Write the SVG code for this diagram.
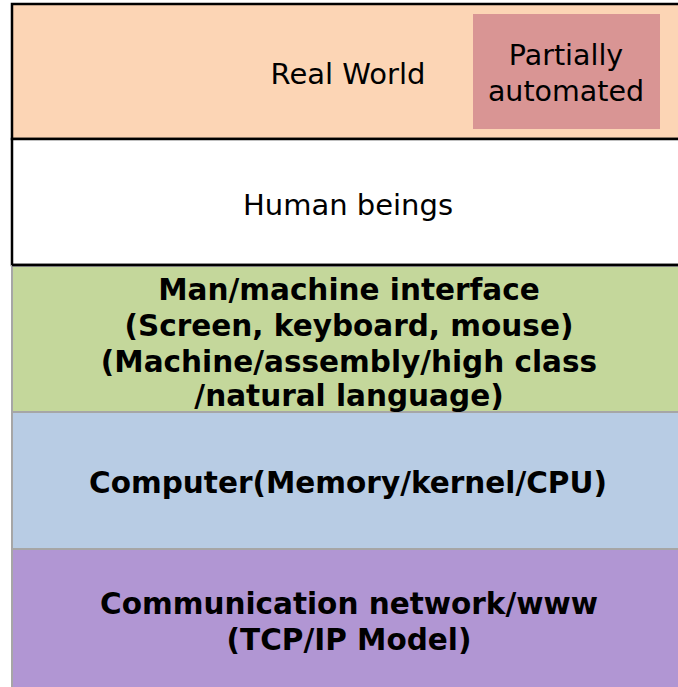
<svg xmlns="http://www.w3.org/2000/svg" width="678" height="687" viewBox="0 0 678 687">
<style>
.n{font-family:"DejaVu Sans","Verdana",sans-serif;font-size:29px;fill:#000;text-anchor:middle}
.b{font-family:"DejaVu Sans","Verdana",sans-serif;font-size:29.5px;font-weight:bold;fill:#000;text-anchor:middle}
.blk{stroke:#000;stroke-width:2.5}
.gry{stroke:#A6A6A6;stroke-width:2}
</style>
<rect x="0" y="0" width="678" height="687" fill="#FFFFFF"/>
<g id="real-world">
<rect x="12" y="4" width="680" height="135" fill="#FCD5B5" class="blk"/>
<text class="n" x="348" y="84">Real World</text>
</g>
<g id="partially-automated">
<rect x="473" y="14" width="187" height="115" fill="#D99594"/>
<text class="n" x="566" y="65" style="font-size:28.5px">Partially</text>
<text class="n" x="566" y="101" style="font-size:28.5px">automated</text>
</g>
<g id="human-beings">
<rect x="12" y="139" width="680" height="126" fill="#FFFFFF" class="blk"/>
<text class="n" x="348" y="215">Human beings</text>
</g>
<g id="computer">
<rect x="12" y="412" width="680" height="137" fill="#B8CCE4" class="gry"/>
<text class="b" x="348" y="493">Computer(Memory/kernel/CPU)</text>
</g>
<g id="interface">
<rect x="12" y="266" width="680" height="146" fill="#C4D79B" class="gry"/>
<text class="b" x="349" y="300">Man/machine interface</text>
<text class="b" x="349" y="336">(Screen, keyboard, mouse)</text>
<text class="b" x="349" y="372">(Machine/assembly/high class</text>
<text class="b" x="349" y="406">/natural language)</text>
</g>
<g id="network">
<rect x="12" y="549" width="680" height="145" fill="#B196D3" class="gry"/>
<text class="b" x="349" y="614">Communication network/www</text>
<text class="b" x="349" y="650">(TCP/IP Model)</text>
</g>
<g id="connectors"></g>
<line x1="12" y1="265" x2="678" y2="265" class="blk"/>
</svg>
